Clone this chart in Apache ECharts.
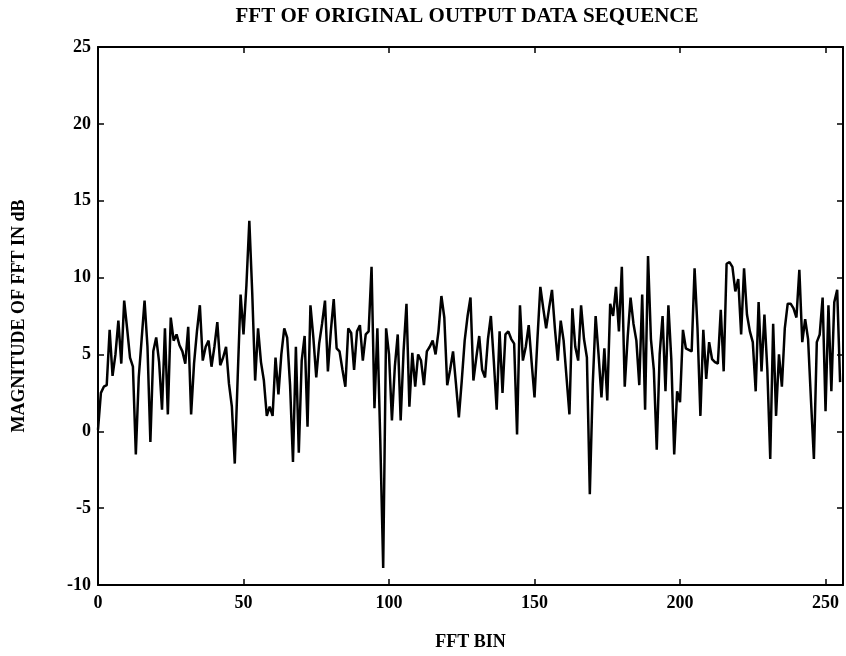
<!DOCTYPE html>
<html>
<head>
<meta charset="utf-8">
<script src="https://cdn.jsdelivr.net/npm/echarts@6/dist/echarts.min.js"></script>
<style>
  html, body { margin: 0; padding: 0; background: #fff; }
  #chart { width: 846px; height: 656px; }
</style>
</head>
<body>
<div id="chart"></div>
<script>
// FFT magnitude (dB), bins 0..255
var binsA = [0.1, 2.5, 2.9, 3.0, 6.6, 3.6, 5.0, 7.2, 4.4, 8.5,
    6.7, 4.8, 4.2, -1.5, 3.5, 6.0, 8.5, 5.5, -0.7, 5.2,
    6.1, 4.5, 1.4, 6.7, 1.1, 7.4, 5.9, 6.3, 5.6, 5.2,
    4.4, 6.8, 1.1, 4.4, 6.5, 8.2, 4.6, 5.5, 5.9, 4.2,
    5.5, 7.1, 4.3, 4.8, 5.5, 3.1, 1.6, -2.1, 3.5, 8.9,
    6.3, 9.5, 13.7, 9.0, 3.3, 6.7, 4.5, 3.3, 1.0, 1.6,
    1.0, 4.8, 2.4, 5.0];
var binsB = [6.7, 6.1, 3.0, -2.0, 5.5, -1.4, 4.6, 6.2, 0.3, 8.2,
    6.1, 3.5, 5.7, 7.0, 8.5, 3.9, 6.5, 8.6, 5.4, 5.2,
    4.0, 2.9, 6.7, 6.4, 4.0, 6.5, 6.9, 4.6, 6.3, 6.5,
    10.7, 1.5, 6.7, -0.6, -8.9, 6.7, 5.0, 0.7, 4.2, 6.3,
    0.7, 5.2, 8.3, 1.6, 5.1, 2.9, 5.0, 4.6, 3.0, 5.2,
    5.5, 5.9, 5.0, 6.5, 8.8, 7.4, 3.0, 4.0, 5.2, 3.1,
    0.9, 3.3, 5.9, 7.5, 8.7];
var binsC = [3.3, 4.8, 6.2, 4.0, 3.5, 6.0, 7.5, 4.6, 1.4, 6.5,
    2.5, 6.3, 6.5, 6.0, 5.7, -0.2, 8.2, 4.6, 5.5, 6.9,
    4.5, 2.2, 6.0, 9.4, 8.0, 6.7, 8.0, 9.2, 6.7, 4.6,
    7.2, 5.9, 3.5, 1.1, 8.0, 5.5, 4.6, 8.2, 6.0, 4.8,
    -4.1, 3.0, 7.5, 5.0, 2.2, 5.4, 2.0, 8.3, 7.5, 9.4,
    6.5, 10.7, 2.9, 6.1, 8.7, 7.0, 5.9, 3.0, 8.9, 1.4,
    11.4, 6.0, 4.0, -1.2, 5.0, 7.5];
var binsD = [2.6, 8.2, 4.7, -1.5, 2.6, 1.9, 6.6, 5.4, 5.3, 5.2,
    10.6, 6.7, 1.0, 6.6, 3.4, 5.8, 4.7, 4.5, 4.4, 7.9,
    3.9, 10.9, 11.0, 10.7, 9.1, 9.9, 6.3, 10.6, 7.6, 6.5,
    5.8, 2.6, 8.4, 3.9, 7.6, 4.0, -1.8, 7.0, 1.0, 5.0,
    2.9, 6.7, 8.3, 8.3, 8.0, 7.4, 10.5, 5.8, 7.3, 6.0,
    2.0, -1.8, 5.8, 6.3, 8.7, 1.3, 8.2, 2.6, 8.4, 9.2,
    3.2];

var xTicks = [0, 50, 100, 150, 200, 250];
var yTicks = [-10, -5, 0, 5, 10, 15, 20, 25];

var magnitude = binsA.concat(binsB, binsC, binsD);
var points = magnitude.map(function (v, i) { return [i, v]; });

var font = '"Liberation Serif", "DejaVu Serif", serif';
var lab = { fontFamily: font, fontWeight: 'bold', fontSize: 18, color: '#000' };
var nameLab = { fontFamily: font, fontWeight: 'bold', fontSize: 18, color: '#000' };
var line = { onZero: false, lineStyle: { color: '#000', width: 2 } };
var tick = { show: true, inside: true, length: 6, lineStyle: { color: '#000', width: 1.5 } };

var chart = echarts.init(document.getElementById('chart'));
chart.setOption({
    animation: false,
    backgroundColor: '#fff',
    graphic: [{
        type: 'text',
        x: 467, y: 6,
        style: {
            text: 'FFT OF ORIGINAL OUTPUT DATA SEQUENCE',
            fontFamily: font, fontWeight: 'bold', fontSize: 21,
            fill: '#000', textAlign: 'center'
        }
    }],
    grid: { left: 98, right: 3, top: 47, bottom: 71, containLabel: false },
    xAxis: [{
        type: 'value', min: 0, max: 256, interval: 50,
        name: 'FFT BIN', nameLocation: 'middle', nameGap: 48,
        nameTextStyle: nameLab,
        axisLine: line,
        axisTick: tick,
        axisLabel: Object.assign({ margin: 9, showMaxLabel: false,
            formatter: function (v) { return xTicks.indexOf(v) >= 0 ? v : ''; } }, lab),
        splitLine: { show: false }
    }, {
        type: 'value', min: 0, max: 256, interval: 50, position: 'top',
        axisLine: line,
        axisTick: tick,
        axisLabel: { show: false },
        splitLine: { show: false }
    }],
    yAxis: [{
        type: 'value', min: yTicks[0], max: yTicks[yTicks.length - 1], interval: 5,
        name: 'MAGNITUDE OF FFT IN dB', nameLocation: 'middle', nameGap: 70,
        nameTextStyle: nameLab,
        axisLine: Object.assign({ show: true }, line),
        axisTick: tick,
        axisLabel: Object.assign({ margin: 7 }, lab),
        splitLine: { show: false }
    }, {
        type: 'value', min: yTicks[0], max: yTicks[yTicks.length - 1], interval: 5, position: 'right',
        axisLine: Object.assign({ show: true }, line),
        axisTick: tick,
        axisLabel: { show: false },
        splitLine: { show: false }
    }],
    series: [{
        type: 'line',
        data: points,
        showSymbol: false,
        smooth: false,
        lineStyle: { color: '#000', width: 2.5 },
        clip: true
    }]
});
</script>
</body>
</html>
